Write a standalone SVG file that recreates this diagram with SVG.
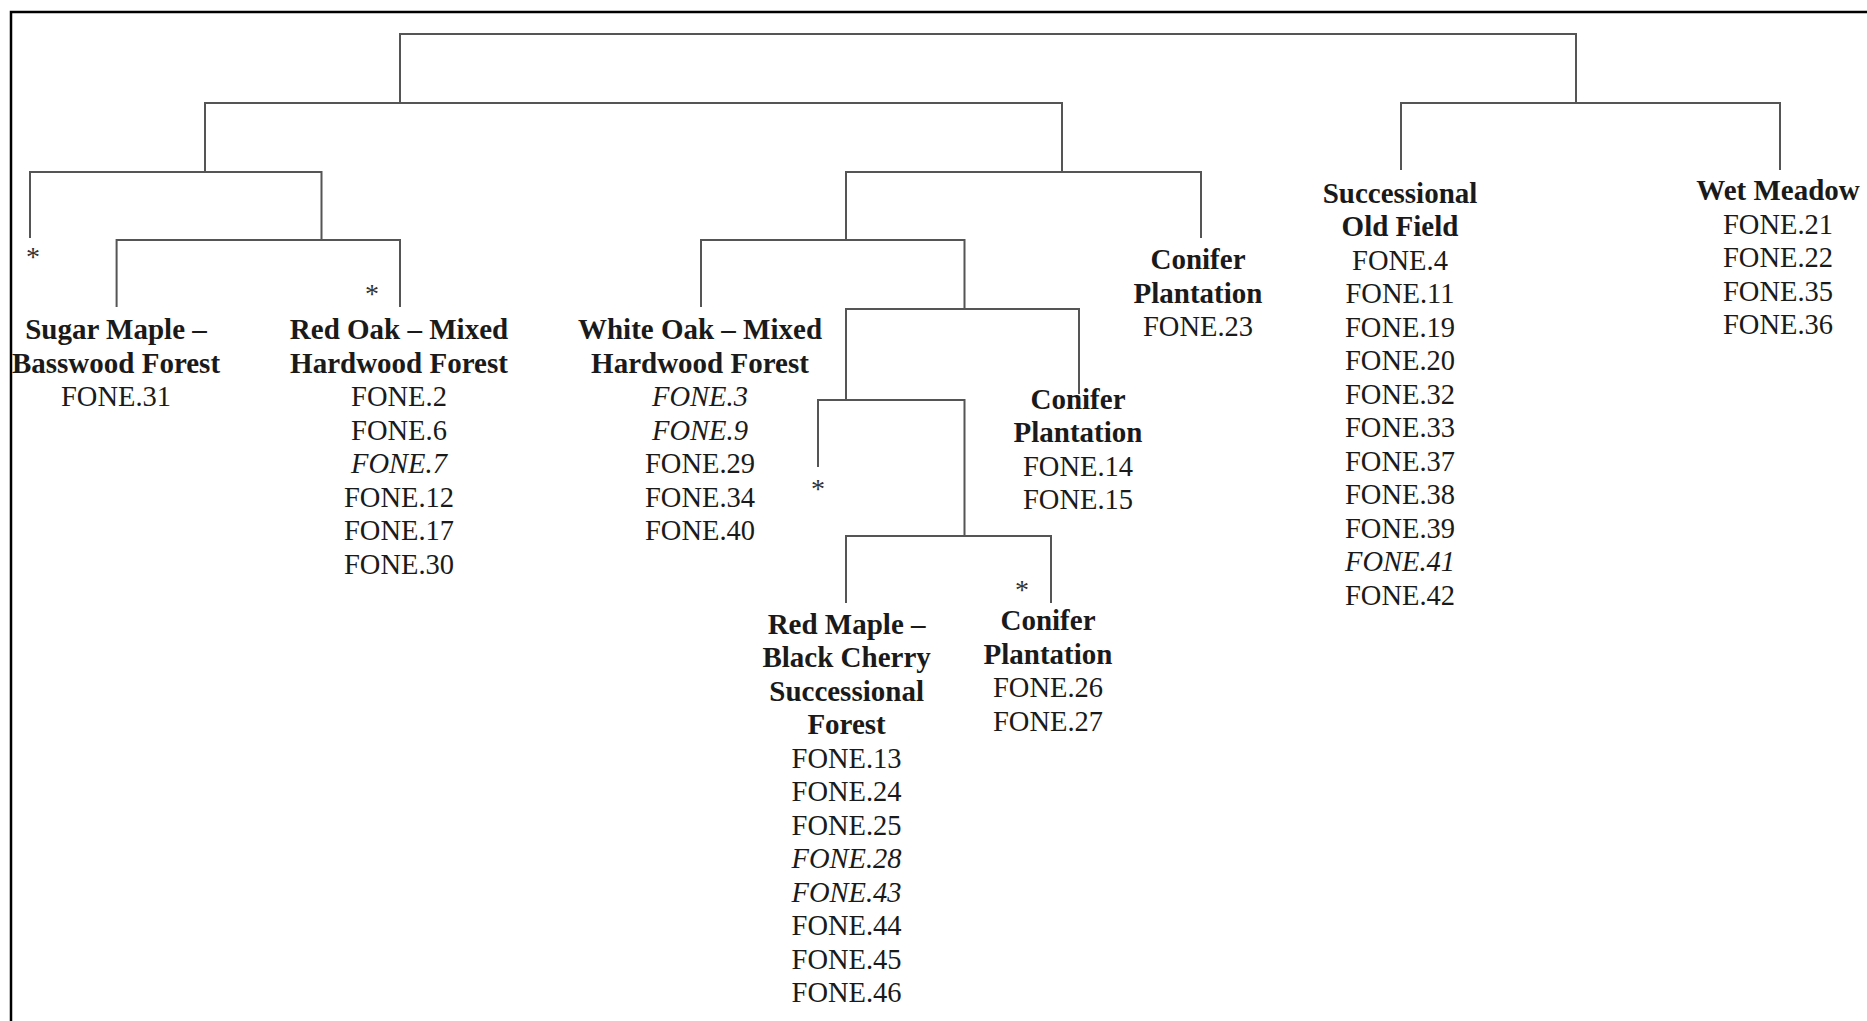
<svg xmlns="http://www.w3.org/2000/svg" width="1867" height="1021" viewBox="0 0 1867 1021">
<style>
.t{font-family:"Liberation Serif","Times New Roman",serif;fill:#1a1a1a;text-anchor:middle}
.h{font-weight:bold;font-size:29px}
.f{font-size:28.5px}
.i{font-style:italic}
.ast{font-family:"Liberation Serif",serif;font-size:28px;fill:#333;text-anchor:middle}
.ln{fill:none;stroke:#555;stroke-width:2}
</style>
<rect x="0" y="0" width="1867" height="1021" fill="#fff"/>
<path d="M11,1021 V12 H1867" fill="none" stroke="#000" stroke-width="2.5"/>
<g id="connectors" class="ln">
<path d="M400,103 V34 H1576 V103"/>
<path d="M205,172 V103 H1062 V172"/>
<path d="M1401,170 V103 H1780 V170"/>
<path d="M30,238 V172 H321.5 V240"/>
<path d="M116.6,307 V240 H400 V307"/>
<path d="M846,240 V172 H1201 V238"/>
<path d="M701,307 V240 H964.5 V309"/>
<path d="M846,400 V309 H1079 V394"/>
<path d="M818,467 V400 H964.5 V536"/>
<path d="M846,603 V536 H1051 V603"/>
</g>
<g id="ast1"><text class="ast" x="33" y="266">*</text></g>
<g id="ast2"><text class="ast" x="372" y="303">*</text></g>
<g id="ast3"><text class="ast" x="818" y="498">*</text></g>
<g id="ast4"><text class="ast" x="1022" y="599">*</text></g>
<g id="sugar-maple">
<text class="t h" x="116" y="339">Sugar Maple –</text>
<text class="t h" x="116" y="372.5">Basswood Forest</text>
<text class="t f" x="116" y="406">FONE.31</text>
</g>
<g id="red-oak">
<text class="t h" x="399" y="339">Red Oak – Mixed</text>
<text class="t h" x="399" y="372.5">Hardwood Forest</text>
<text class="t f" x="399" y="406">FONE.2</text>
<text class="t f" x="399" y="439.5">FONE.6</text>
<text class="t f i" x="399" y="473">FONE.7</text>
<text class="t f" x="399" y="506.5">FONE.12</text>
<text class="t f" x="399" y="540">FONE.17</text>
<text class="t f" x="399" y="573.5">FONE.30</text>
</g>
<g id="white-oak">
<text class="t h" x="700" y="339">White Oak – Mixed</text>
<text class="t h" x="700" y="372.5">Hardwood Forest</text>
<text class="t f i" x="700" y="406">FONE.3</text>
<text class="t f i" x="700" y="439.5">FONE.9</text>
<text class="t f" x="700" y="473">FONE.29</text>
<text class="t f" x="700" y="506.5">FONE.34</text>
<text class="t f" x="700" y="540">FONE.40</text>
</g>
<g id="conifer-23">
<text class="t h" x="1198" y="269">Conifer</text>
<text class="t h" x="1198" y="302.5">Plantation</text>
<text class="t f" x="1198" y="336">FONE.23</text>
</g>
<g id="conifer-14">
<text class="t h" x="1078" y="408.5">Conifer</text>
<text class="t h" x="1078" y="442">Plantation</text>
<text class="t f" x="1078" y="475.5">FONE.14</text>
<text class="t f" x="1078" y="509">FONE.15</text>
</g>
<g id="red-maple">
<text class="t h" x="846.6" y="633.5">Red Maple –</text>
<text class="t h" x="846.6" y="667">Black Cherry</text>
<text class="t h" x="846.6" y="700.5">Successional</text>
<text class="t h" x="846.6" y="734">Forest</text>
<text class="t f" x="846.6" y="767.5">FONE.13</text>
<text class="t f" x="846.6" y="801">FONE.24</text>
<text class="t f" x="846.6" y="834.5">FONE.25</text>
<text class="t f i" x="846.6" y="868">FONE.28</text>
<text class="t f i" x="846.6" y="901.5">FONE.43</text>
<text class="t f" x="846.6" y="935">FONE.44</text>
<text class="t f" x="846.6" y="968.5">FONE.45</text>
<text class="t f" x="846.6" y="1002">FONE.46</text>
</g>
<g id="conifer-26">
<text class="t h" x="1048" y="630">Conifer</text>
<text class="t h" x="1048" y="663.5">Plantation</text>
<text class="t f" x="1048" y="697">FONE.26</text>
<text class="t f" x="1048" y="730.5">FONE.27</text>
</g>
<g id="successional-old-field">
<text class="t h" x="1400" y="202.5">Successional</text>
<text class="t h" x="1400" y="236">Old Field</text>
<text class="t f" x="1400" y="269.5">FONE.4</text>
<text class="t f" x="1400" y="303">FONE.11</text>
<text class="t f" x="1400" y="336.5">FONE.19</text>
<text class="t f" x="1400" y="370">FONE.20</text>
<text class="t f" x="1400" y="403.5">FONE.32</text>
<text class="t f" x="1400" y="437">FONE.33</text>
<text class="t f" x="1400" y="470.5">FONE.37</text>
<text class="t f" x="1400" y="504">FONE.38</text>
<text class="t f" x="1400" y="537.5">FONE.39</text>
<text class="t f i" x="1400" y="571">FONE.41</text>
<text class="t f" x="1400" y="604.5">FONE.42</text>
</g>
<g id="wet-meadow">
<text class="t h" x="1778" y="200">Wet Meadow</text>
<text class="t f" x="1778" y="233.5">FONE.21</text>
<text class="t f" x="1778" y="267">FONE.22</text>
<text class="t f" x="1778" y="300.5">FONE.35</text>
<text class="t f" x="1778" y="334">FONE.36</text>
</g>
</svg>
